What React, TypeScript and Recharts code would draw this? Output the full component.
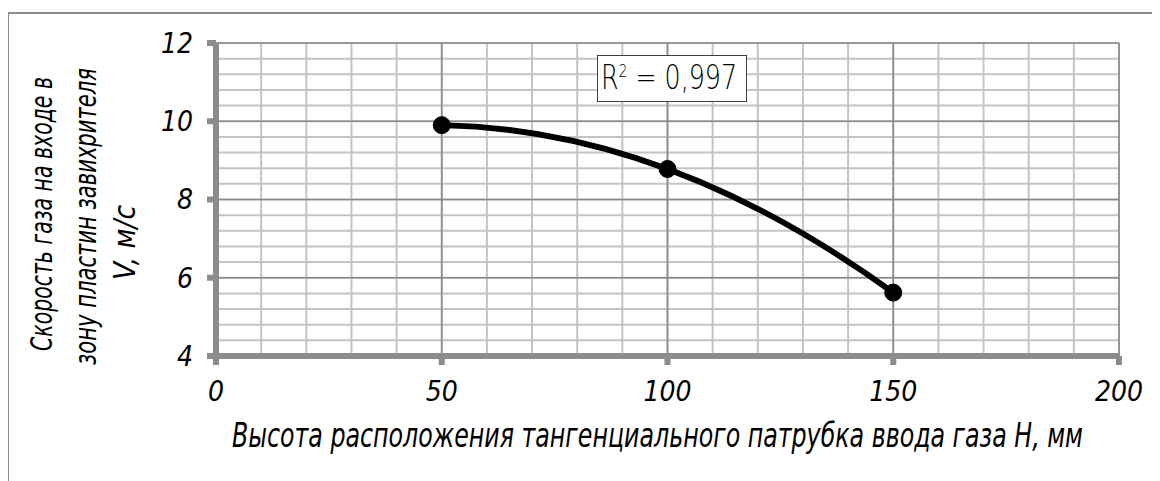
import React from "react";
import { LineChart, Line, XAxis, YAxis, CartesianGrid, Label } from "recharts";

// measured points: tangential inlet height H (mm) -> gas velocity V (m/s)
const heights = [50, 100, 150];
const speeds = [9.9, 8.78, 5.62];

const xTicks = [0, 50, 100, 150, 200];
const yTicks = [4, 6, 8, 10, 12];
const xMinorTicks = [0, 10, 20, 30, 40, 50, 60, 70, 80, 90, 100, 110, 120, 130, 140, 150, 160, 170, 180, 190, 200];
const yMinorTicks = [4, 4.4, 4.8, 5.2, 5.6, 6, 6.4, 6.8, 7.2, 7.6, 8, 8.4, 8.8, 9.2, 9.6, 10, 10.4, 10.8, 11.2, 11.6, 12];

const yTitleLines = ["Скорость газа на входе в", "зону пластин завихрителя", "V, м/с"];
const xTitle = "Высота расположения тангенциального патрубка ввода газа H, мм";
const r2Value = "0,997";

const data = heights.map((h, i) => ({ h, v: speeds[i] }));

const FONT = "'DejaVu Sans', 'Liberation Sans', sans-serif";
const AXIS_GRAY = "#8c8c8c";

// polynomial (2nd order) trendline drawn through the points, like Excel does
const quadraticTrend: any = (context: any) => {
  let xs: number[] = [];
  let ys: number[] = [];
  return {
    areaStart() {},
    areaEnd() {},
    lineStart() {
      xs = [];
      ys = [];
    },
    point(x: number, y: number) {
      xs.push(+x);
      ys.push(+y);
    },
    lineEnd() {
      const n = xs.length;
      if (n === 0) return;
      if (n < 3) {
        context.moveTo(xs[0], ys[0]);
        for (let i = 1; i < n; i++) context.lineTo(xs[i], ys[i]);
        return;
      }
      const xa = xs[0];
      const xb = xs[n - 1];
      const mx = (xa + xb) / 2;
      const sc = (xb - xa) / 2 || 1;
      let s0 = 0, s1 = 0, s2 = 0, s3 = 0, s4 = 0, t0 = 0, t1 = 0, t2 = 0;
      for (let i = 0; i < n; i++) {
        const t = (xs[i] - mx) / sc;
        const y = ys[i];
        s0 += 1; s1 += t; s2 += t * t; s3 += t * t * t; s4 += t * t * t * t;
        t0 += y; t1 += t * y; t2 += t * t * y;
      }
      const det3 = (m: number[][]) =>
        m[0][0] * (m[1][1] * m[2][2] - m[1][2] * m[2][1]) -
        m[0][1] * (m[1][0] * m[2][2] - m[1][2] * m[2][0]) +
        m[0][2] * (m[1][0] * m[2][1] - m[1][1] * m[2][0]);
      const M = [[s0, s1, s2], [s1, s2, s3], [s2, s3, s4]];
      const R = [t0, t1, t2];
      const D = det3(M);
      const col = (k: number) => det3(M.map((row, r) => row.map((val, c) => (c === k ? R[r] : val))));
      const a = col(0) / D;
      const b = col(1) / D;
      const c = col(2) / D;
      context.moveTo(xa, a - b + c);
      context.quadraticCurveTo(mx, a - c, xb, a + b + c);
    },
  };
};

const verticalAt = (values: number[]) => (props: any) => {
  const { xAxis, offset } = props;
  if (xAxis && typeof xAxis.scale === "function") return values.map((v) => xAxis.scale(v));
  return values.map((v) => offset.left + (offset.width * v) / 200);
};

const horizontalAt = (values: number[]) => (props: any) => {
  const { yAxis, offset } = props;
  if (yAxis && typeof yAxis.scale === "function") return values.map((v) => yAxis.scale(v));
  return values.map((v) => offset.top + (offset.height * (12 - v)) / 8);
};

const titleText = {
  fontFamily: FONT,
  fontStyle: "italic",
  fontStretch: "condensed",
  fontWeight: 300,
  fill: "#000",
};

// rotated axis title, one <text> per line so each can be fitted to its length
const yLineLayout = [
  { center: 206, baseline: 44, length: 274, size: 31 },
  { center: 208.5, baseline: 88, length: 297, size: 31 },
  { center: 234.5, baseline: 127, length: 75, size: 31 },
];

const YTitle = () => (
  <g>
    {yTitleLines.map((line, i) => {
      const l = yLineLayout[i];
      return (
        <text
          key={i}
          transform="rotate(-90)"
          x={-l.center}
          y={l.baseline}
          textAnchor="middle"
          fontSize={l.size}
          textLength={l.length}
          lengthAdjust="spacingAndGlyphs"
          style={titleText}
        >
          {line}
        </text>
      );
    })}
  </g>
);

const XTitle = (props: any) => {
  const vb = props.viewBox || { x: 208, y: 348, width: 903, height: 60 };
  return (
    <text
      x={vb.x + vb.width / 2 - 10}
      y={vb.y + 91}
      textAnchor="middle"
      fontSize={33}
      textLength={851}
      lengthAdjust="spacingAndGlyphs"
      style={titleText}
    >
      {xTitle}
    </text>
  );
};

const tickStyle = {
  fill: "#000",
  fontSize: 28,
  fontStyle: "italic",
  fontStretch: "condensed",
  fontWeight: 300,
  fontFamily: FONT,
};

export default function App() {
  return (
    <div style={{ position: "relative", width: 1152, height: 473 }}>
      <style>{"html, body { overflow: hidden; }"}</style>
      <div
        style={{
          position: "absolute",
          left: -1,
          top: 4,
          width: 1160,
          height: 480,
          borderLeft: `2px solid ${AXIS_GRAY}`,
          borderTop: `2px solid ${AXIS_GRAY}`,
          boxSizing: "border-box",
        }}
      />
      <LineChart
        width={1152}
        height={473}
        data={data}
        margin={{ top: 35, right: 41, bottom: 65, left: 0 }}
        style={{ position: "absolute", left: 0, top: 0 }}
      >
        <CartesianGrid
          stroke="#c4c4c4"
          strokeWidth={2}
          verticalCoordinatesGenerator={verticalAt(xMinorTicks)}
          horizontalCoordinatesGenerator={horizontalAt(yMinorTicks)}
        />
        <CartesianGrid
          stroke="#8a8a8a"
          strokeWidth={1.6}
          verticalCoordinatesGenerator={verticalAt(xTicks)}
          horizontalCoordinatesGenerator={horizontalAt(yTicks)}
        />
        <XAxis
          type="number"
          dataKey="h"
          domain={[0, 200]}
          ticks={xTicks}
          interval={0}
          height={60}
          tick={tickStyle}
          tickSize={9}
          tickMargin={16}
          axisLine={{ stroke: AXIS_GRAY, strokeWidth: 6 }}
          tickLine={{ stroke: AXIS_GRAY, strokeWidth: 6 }}
        >
          <Label content={XTitle} />
        </XAxis>
        <YAxis
          type="number"
          domain={[4, 12]}
          ticks={yTicks}
          interval={0}
          width={208}
          tick={tickStyle}
          tickSize={9}
          tickMargin={14}
          axisLine={{ stroke: AXIS_GRAY, strokeWidth: 6 }}
          tickLine={{ stroke: AXIS_GRAY, strokeWidth: 6 }}
        >
          <Label content={YTitle} />
        </YAxis>
        <Line
          dataKey="v"
          type={quadraticTrend}
          stroke="#000"
          strokeWidth={5.8}
          dot={{ r: 8.5, fill: "#000", stroke: "#000", strokeWidth: 1 }}
          activeDot={false}
          isAnimationActive={false}
        />
      </LineChart>
      <div
        style={{
          position: "absolute",
          left: 589,
          top: 47,
          width: 150,
          height: 47,
          boxSizing: "border-box",
          border: "1.5px solid #404040",
          background: "#fff",
        }}
      >
        <svg width={147} height={44} style={{ position: "absolute", left: 0, top: 0 }}>
          <text
            x={3}
            y={33}
            fontFamily={FONT}
            fontSize={33}
            fontWeight={300}
            fill="#000"
            textLength={136}
            lengthAdjust="spacingAndGlyphs"
            style={{ fontStretch: "condensed" }}
          >
            R
            <tspan fontSize={18} dy={-12}>
              2
            </tspan>
            <tspan dy={12}>{` = ${r2Value}`}</tspan>
          </text>
        </svg>
      </div>
    </div>
  );
}
